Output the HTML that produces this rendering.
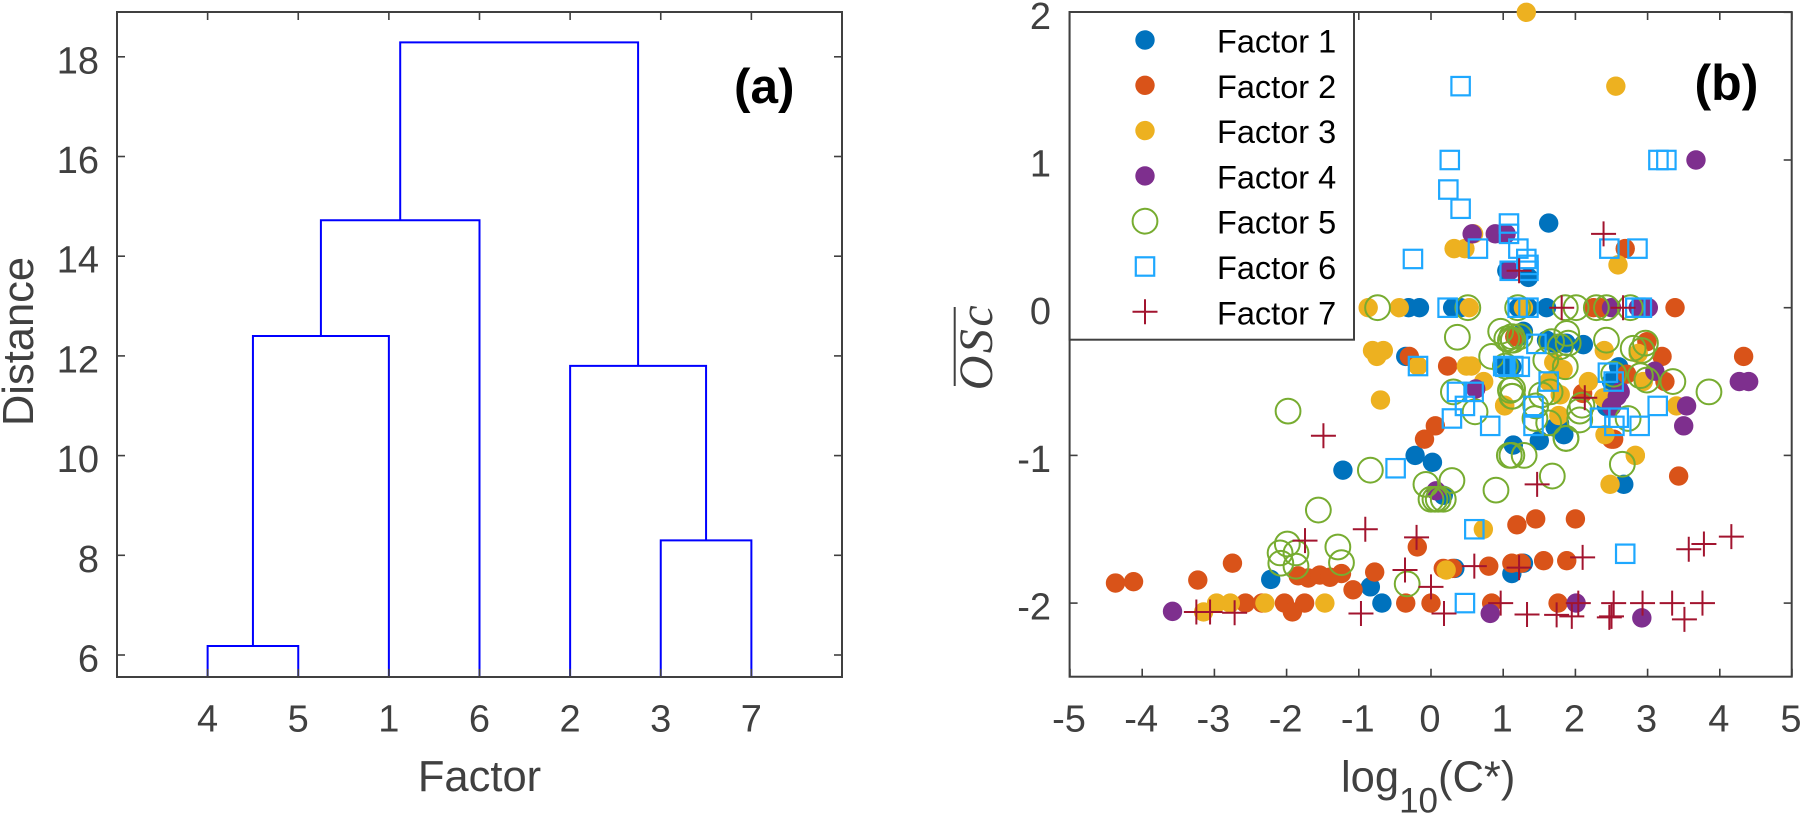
<!DOCTYPE html>
<html lang="en">
<head>
<meta charset="utf-8">
<title>Factor dendrogram and OSc versus volatility</title>
<style>
html,body{margin:0;padding:0;background:#fff;}
svg{display:block;font-family:"Liberation Sans",sans-serif;}
</style>
</head>
<body>
<svg id="figure" xmlns="http://www.w3.org/2000/svg" width="1800" height="814" viewBox="0 0 1800 814">
  <rect x="0" y="0" width="1800" height="814" fill="#fff"/>
  <g id="panel-a"></g>
  <g id="panel-b"></g>

  <text x="734" y="103" font-size="49.5" font-weight="bold" fill="#000">(a)</text>
  <text x="479.5" y="791" font-size="43.5" text-anchor="middle" fill="#404040">Factor</text>
  <text transform="translate(33,341.5) rotate(-90)" font-size="43.5" text-anchor="middle" fill="#404040">Distance</text>

  <text x="1341" y="791.7" font-size="43.5" fill="#404040">log<tspan font-size="35" dy="21">10</tspan><tspan dy="-21">(C*)</tspan></text>
  <text transform="translate(992,346.5) rotate(-90)" font-size="48" letter-spacing="2.5" text-anchor="middle" font-style="italic" fill="#404040" style="font-family:'Liberation Serif',serif">OSc</text>
  <line x1="954.7" y1="307" x2="954.7" y2="386" stroke="#404040" stroke-width="2"/>

  <g id="legend">
    <rect x="1069.6" y="12" width="284.4" height="327.7" fill="#fff" stroke="#404040" stroke-width="2"/>
  </g>
  <text x="1694.5" y="100" font-size="50" font-weight="bold" fill="#000">(b)</text>
</svg>

<script>
// ---------- Panel (a): dendrogram values ----------
const leafOrder = [4, 5, 1, 6, 2, 3, 7];
const linkLeft = [4, 3, 8, 2, 10, 11];
const linkRight = [5, 7, 1, 9, 6, 12];
const linkHeight = [6.18, 8.3, 12.4, 11.8, 14.72, 18.29];
const distanceTicks = [6, 8, 10, 12, 14, 16, 18];

// ---------- Panel (b): scatter values ----------
const xTicks = [-5, -4, -3, -2, -1, 0, 1, 2, 3, 4, 5];
const yTicks = [-2, -1, 0, 1, 2];
const legendLabels = ['Factor 1', 'Factor 2', 'Factor 3', 'Factor 4', 'Factor 5', 'Factor 6', 'Factor 7'];

const factor1X = [-0.31,-0.16,0.30,0.41,1.21,1.35,1.60,-0.35,1.01,1.05,1.35,1.63,1.28,1.21,1.60,1.70,1.87,2.11,2.60,2.43,1.50,1.84,1.72,1.14,1.78,2.67,-1.22,-0.22,0.02,0.17,1.28,1.12,0.33,-2.22,-0.84,-0.68,2.60,2.55,1.12,2.50];
const factor1Y = [0,0,0,0,0,0,0,-0.33,-0.395,0.25,0.205,0.573,-0.16,-0.196,-0.22,-0.24,-0.24,-0.25,-0.40,-0.67,-0.90,-0.86,-0.81,-0.93,-0.78,-1.196,-1.10,-1.00,-1.047,-1.27,-1.73,-1.80,-1.765,-1.84,-1.89,-2.00,-0.55,-0.60,-0.40,-0.50];

const factor2X = [0.23,-0.30,0.06,-0.09,2.25,2.35,3.38,2.99,3.20,3.24,2.71,2.10,2.53,2.69,1.16,3.43,2.50,1.19,1.45,2.00,1.88,1.56,1.25,1.12,0.80,0.30,0.17,0.84,1.76,-4.37,-4.12,-3.23,-2.75,-2.57,-2.34,-2.03,-1.75,-1.92,-1.84,-1.70,-1.54,-1.40,-1.24,-0.78,-1.08,-0.35,0.00,-0.19,4.33];
const factor2Y = [-0.395,-0.33,-0.80,-0.89,0,0,0,-0.23,-0.33,-0.50,-0.45,-0.58,-0.89,0.40,-0.196,-1.14,-0.89,-1.47,-1.43,-1.43,-1.713,-1.713,-1.73,-1.73,-1.75,-1.765,-1.765,-2,-2,-1.864,-1.855,-1.844,-1.73,-2,-2,-2,-2,-2.06,-1.815,-1.83,-1.81,-1.825,-1.80,-1.79,-1.91,-2,-2,-1.62,-0.33];

const factor3X = [-0.87,-0.44,0.53,1.28,-0.81,-0.66,-0.75,-0.18,0.49,0.56,-0.70,0.73,1.02,1.32,2.56,0.59,0.32,0.47,2.59,2.87,2.40,2.94,2.18,2.39,3.40,2.41,2.83,1.63,1.77,1.79,1.70,1.83,2.48,2.83,0.725,0.21,-3.15,-2.97,-2.78,-2.30,-1.47,1.02];
const factor3Y = [0,0,0,0,-0.29,-0.29,-0.33,-0.395,-0.395,-0.395,-0.625,-0.50,-0.665,2,1.5,0.5,0.40,0.40,0.29,-0.31,-0.29,-0.50,-0.50,-0.61,-0.665,-0.86,-1,-0.50,-0.73,-0.59,-0.37,-0.42,-1.196,-1,-1.5,-1.776,-2.06,-2,-2,-2,-2,-0.66];

const factor4X = [0.57,0.89,1.04,3.67,1.09,0.62,2.50,2.87,3.01,3.10,2.62,2.50,3.54,3.50,0.07,4.27,4.40,2.01,0.82,2.92,-3.58,2.58];
const factor4Y = [0.5,0.5,0.5,1,0.25,-0.55,0,0,0,-0.43,-0.57,-0.67,-0.665,-0.80,-1.24,-0.50,-0.50,-2,-2.07,-2.10,-2.056,-0.60];

const factor5X = [-0.74,0.51,1.20,1.86,2.01,2.29,2.43,2.76,0.365,0.84,0.965,1.10,1.03,1.10,1.12,1.13,0.31,0.61,2.97,2.80,2.92,2.43,2.99,3.35,2.90,2.53,2.73,1.45,1.44,1.63,1.87,2.06,2.06,2.09,1.65,1.53,1.13,1.59,1.86,1.79,1.88,1.90,1.67,1.12,1.05,1.23,1.14,1.085,1.12,1.29,1.87,0.29,1.68,0.90,2.65,-0.07,0.00,0.055,0.10,0.17,-1.98,-1.56,-0.84,-1.29,-1.24,-1.99,-2.09,-1.87,-2.08,-1.87,-0.33,3.85];
const factor5Y = [0,0,0,0,0,0,0,0,-0.20,-0.33,-0.16,-0.22,-0.395,-0.56,-0.60,-0.55,-0.57,-0.705,-0.24,-0.275,-0.29,-0.22,-0.49,-0.50,-0.46,-0.45,-0.75,-0.665,-0.75,-0.78,-0.885,-0.76,-0.70,-0.66,-0.57,-0.59,-0.60,-0.355,-0.40,-0.264,-0.174,-0.24,-0.23,-0.196,-0.21,-0.196,-0.22,-1,-1,-1,-0.885,-1.17,-1.14,-1.235,-1.06,-1.196,-1.297,-1.297,-1.297,-1.297,-0.70,-1.37,-1.10,-1.62,-1.726,-1.60,-1.66,-1.66,-1.73,-1.75,-1.87,-0.57];

const factor6X = [0.23,1.20,1.35,0.36,0.59,0.47,0.29,0.82,1.00,1.14,-0.18,2.83,2.92,1.46,2.45,2.53,3.14,2.89,2.34,2.60,2.54,1.42,1.42,1.63,1.03,1.23,0.41,0.26,3.15,3.26,0.24,0.41,1.08,1.08,0.65,1.21,2.47,2.86,1.32,1.35,1.35,1.09,-0.25,-0.49,0.60,0.47,2.69];
const factor6Y = [0,0,0,-0.57,-0.57,-0.665,-0.75,-0.80,-0.395,-0.395,-0.395,0,0,-0.245,-0.44,-0.50,-0.665,-0.80,-0.745,-0.745,-0.80,-0.665,-0.80,-0.50,-0.40,-0.40,1.5,1,1,1,0.8,0.67,0.57,0.5,0.40,0.40,0.40,0.40,0.33,0.29,0.25,0.25,0.33,-1.087,-1.5,-2,-1.666];

const factor7X = [1.81,2.66,1.22,2.39,2.13,1.47,4.16,3.78,3.57,2.10,1.22,0.60,0.965,2.04,2.53,2.93,3.34,3.76,0.18,1.33,1.74,1.95,2.47,2.50,3.51,-3.25,-3.06,-2.72,-0.97,-0.36,0.00,-1.745,-0.91,-0.20,-1.49];
const factor7Y = [0,0,0.25,0.5,-0.61,-1.196,-1.55,-1.60,-1.635,-1.69,-1.76,-1.75,-2,-2,-2,-2,-2,-2,-2.07,-2.077,-2.08,-2.09,-2.097,-2.09,-2.11,-2.06,-2.06,-2.065,-2.07,-1.776,-1.89,-1.577,-1.50,-1.555,-0.867];

// ---------- Helpers ----------
const SVGNS = 'http://www.w3.org/2000/svg';
const AXIS = '#404040';
const INK = '#404040';
function make(tag, parent, attrs) {
  const el = document.createElementNS(SVGNS, tag);
  for (const k in attrs) el.setAttribute(k, attrs[k]);
  parent.appendChild(el);
  return el;
}

// ---------- Panel (a) ----------
const panelA = document.getElementById('panel-a');
const aBox = {left: 117, right: 842, top: 12, bottom: 677};
const aX = v => aBox.left + (aBox.right - aBox.left) * v / 8;
const aY = v => 655 - (v - 6) * 49.85;

const nodePos = {};
leafOrder.forEach((leaf, i) => {
  nodePos[leaf] = {x: i + 1, h: null};
});
linkLeft.forEach((a, i) => {
  const b = linkRight[i];
  const h = linkHeight[i];
  const pa = nodePos[a];
  const pb = nodePos[b];
  const ya = pa.h === null ? aBox.bottom : aY(pa.h);
  const yb = pb.h === null ? aBox.bottom : aY(pb.h);
  const link = make('polyline', panelA, {
    points: aX(pa.x) + ',' + ya + ' ' + aX(pa.x) + ',' + aY(h) + ' ' + aX(pb.x) + ',' + aY(h) + ' ' + aX(pb.x) + ',' + yb,
    fill: 'none', stroke: '#0000ff', 'stroke-width': 2
  });
  
  
  nodePos[8 + i] = {x: (pa.x + pb.x) / 2, h: h};
});

const aFrame = make('rect', panelA, {x: aBox.left, y: aBox.top, width: aBox.right - aBox.left, height: aBox.bottom - aBox.top, fill: 'none', stroke: AXIS, 'stroke-width': 2});



leafOrder.forEach((leaf, i) => {
  const x = aX(i + 1);
  const tickB = make('line', panelA, {x1: x, x2: x, y1: aBox.bottom, y2: aBox.bottom - 8, stroke: AXIS, 'stroke-width': 1.6});
  
  
  const tickT = make('line', panelA, {x1: x, x2: x, y1: aBox.top, y2: aBox.top + 8, stroke: AXIS, 'stroke-width': 1.6});
  
  
  const label = make('text', panelA, {x: x, y: 731.7, 'font-size': 38, 'text-anchor': 'middle', fill: INK});
  
  
  label.textContent = leaf;
});
distanceTicks.forEach(v => {
  const y = aY(v);
  const tickL = make('line', panelA, {x1: aBox.left, x2: aBox.left + 8, y1: y, y2: y, stroke: AXIS, 'stroke-width': 1.6});
  
  
  const tickR = make('line', panelA, {x1: aBox.right, x2: aBox.right - 8, y1: y, y2: y, stroke: AXIS, 'stroke-width': 1.6});
  
  
  const label = make('text', panelA, {x: 99, y: y + 16.5, 'font-size': 38, 'text-anchor': 'end', fill: INK});
  
  
  label.textContent = v;
});

// ---------- Panel (b) ----------
const panelB = document.getElementById('panel-b');
const bBox = {left: 1069.6, right: 1791.7, top: 12, bottom: 676.7};
const bX = v => 1431 + v * 72.2;
const bY = v => 307.7 - v * 147.7;

const bFrame = make('rect', panelB, {x: bBox.left, y: bBox.top, width: bBox.right - bBox.left, height: bBox.bottom - bBox.top, fill: 'none', stroke: AXIS, 'stroke-width': 2});



xTicks.forEach(v => {
  const x = bX(v);
  const tickB = make('line', panelB, {x1: x, x2: x, y1: bBox.bottom, y2: bBox.bottom - 8, stroke: AXIS, 'stroke-width': 1.6});
  
  
  const tickT = make('line', panelB, {x1: x, x2: x, y1: bBox.top, y2: bBox.top + 8, stroke: AXIS, 'stroke-width': 1.6});
  
  
  const label = make('text', panelB, {x: x - 1, y: 731.7, 'font-size': 38, 'text-anchor': 'middle', fill: INK});
  
  
  label.textContent = v;
});
yTicks.forEach(v => {
  const y = bY(v);
  const tickL = make('line', panelB, {x1: bBox.left, x2: bBox.left + 8, y1: y, y2: y, stroke: AXIS, 'stroke-width': 1.6});
  
  
  const tickR = make('line', panelB, {x1: bBox.right, x2: bBox.right - 8, y1: y, y2: y, stroke: AXIS, 'stroke-width': 1.6});
  
  
  const label = make('text', panelB, {x: 1051, y: y + 16.5, 'font-size': 38, 'text-anchor': 'end', fill: INK});
  
  
  label.textContent = v;
});

const seriesX = [factor1X, factor2X, factor3X, factor4X, factor5X, factor6X, factor7X];
const seriesY = [factor1Y, factor2Y, factor3Y, factor4Y, factor5Y, factor6Y, factor7Y];
const seriesColor = ['#0072bd', '#d95319', '#edb120', '#7e2f8e', '#77ac30', '#1ea8ff', '#a2142f'];
const seriesKind = ['dot', 'dot', 'dot', 'dot', 'ring', 'square', 'plus'];

function drawMarker(parent, kind, color, px, py) {
  if (kind === 'dot') {
    return make('circle', parent, {cx: px, cy: py, r: 9.7, fill: color});
  }
  if (kind === 'ring') {
    return make('circle', parent, {cx: px, cy: py, r: 12.4, fill: 'none', stroke: color, 'stroke-width': 2});
  }
  if (kind === 'square') {
    return make('rect', parent, {x: px - 9.2, y: py - 9.2, width: 18.4, height: 18.4, fill: 'none', stroke: color, 'stroke-width': 2.2});
  }
  return make('path', parent, {d: 'M' + (px - 12.5) + ' ' + py + 'H' + (px + 12.5) + 'M' + px + ' ' + (py - 12.5) + 'V' + (py + 12.5), fill: 'none', stroke: color, 'stroke-width': 2});
}

seriesX.forEach((xs, s) => {
  const group = make('g', panelB, {});
  
  
  xs.forEach((xv, i) => {
    const mark = drawMarker(group, seriesKind[s], seriesColor[s], bX(xv), bY(seriesY[s][i]));
    
    
  });
});

// ---------- Legend ----------
const legend = document.getElementById('legend');
legendLabels.forEach((text, s) => {
  const y = 40 + s * 45.3;
  const key = drawMarker(legend, seriesKind[s], seriesColor[s], 1145, y);
  
  
  const label = make('text', legend, {x: 1217, y: y + 12.5, 'font-size': 32.5, fill: '#000'});
  
  
  label.textContent = text;
});
</script>
</body>
</html>
